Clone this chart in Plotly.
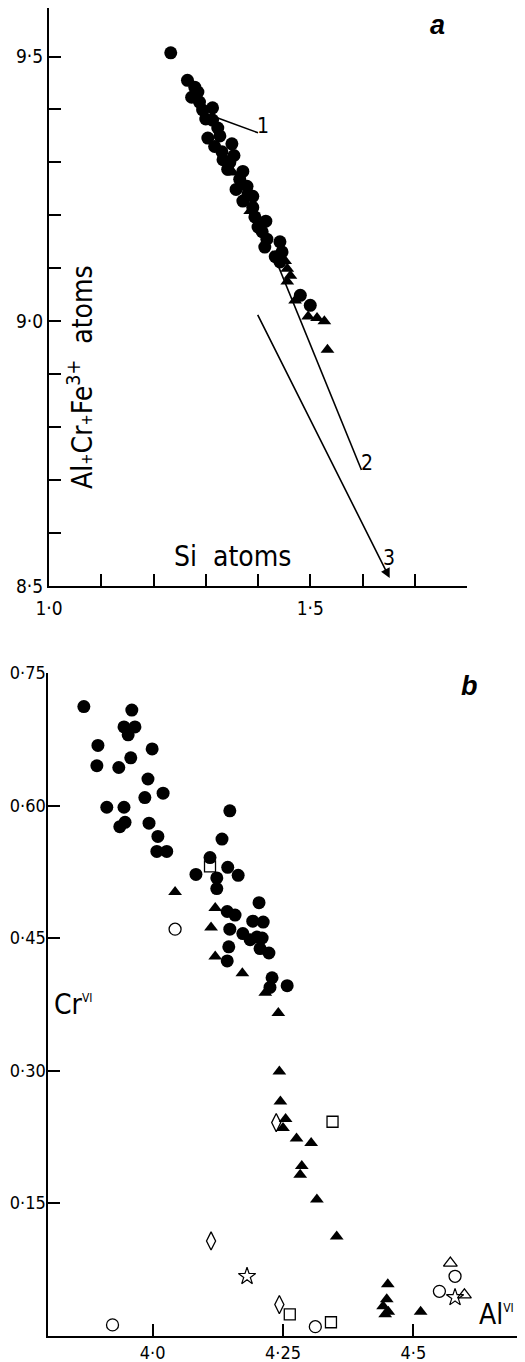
import plotly.graph_objects as go

WF, HF = 517, 1354   # figure size (page body adds an 8px margin)
FONT = "Liberation Sans Narrow, DejaVu Sans Condensed, Liberation Sans, Arial, sans-serif"
BOLDF = "Liberation Sans, Arial, sans-serif"

# ---------------- Panel a data ----------------
a_circle_x = [1.233, 1.265, 1.279, 1.273, 1.288, 1.294, 1.313, 1.300, 1.313, 1.304,
              1.327, 1.317, 1.331, 1.333, 1.354, 1.346, 1.371, 1.358, 1.379, 1.371,
              1.390, 1.390, 1.394, 1.415, 1.408, 1.417, 1.442, 1.413, 1.446, 1.442,
              1.481, 1.500, 1.365, 1.400, 1.433, 1.350, 1.285, 1.323, 1.342, 1.381]
a_circle_y = [9.507, 9.455, 9.442, 9.423, 9.414, 9.399, 9.403, 9.382, 9.380, 9.346,
              9.350, 9.330, 9.320, 9.305, 9.313, 9.300, 9.283, 9.249, 9.255, 9.227,
              9.236, 9.215, 9.197, 9.189, 9.169, 9.155, 9.150, 9.140, 9.131, 9.112,
              9.049, 9.030, 9.268, 9.178, 9.122, 9.335, 9.433, 9.365, 9.287, 9.240]
a_tri_x = [1.352, 1.456, 1.462, 1.456, 1.471, 1.496, 1.513, 1.527, 1.533, 1.385, 1.452]
a_tri_y = [9.281, 9.099, 9.086, 9.075, 9.039, 9.009, 9.006, 9.000, 8.946, 9.208, 9.114]

line1_x = [1.323, 1.400]
line1_y = [9.384, 9.356]
line2_x = [1.427, 1.598]
line2_y = [9.133, 8.719]
line3_x = [1.398, 1.652]
line3_y = [9.015, 8.515]

a_xtickvals = [1.0, 1.1, 1.2, 1.3, 1.4, 1.5, 1.6, 1.7, 1.8]
a_xticktext = ["1·0", "", "", "", "", "1·5", "", "", ""]
a_ytickvals = [8.5, 8.6, 8.7, 8.8, 8.9, 9.0, 9.1, 9.2, 9.3, 9.4, 9.5, 9.59]
a_yticktext = ["8·5", "", "", "", "", "9·0", "", "", "", "", "9·5", ""]

# ---------------- Panel b data ----------------
b_fcircle_x = [3.868, 3.960, 3.945, 3.966, 3.953, 3.895, 3.999, 3.893, 3.935, 3.958,
               3.991, 4.020, 3.985, 3.912, 3.945, 3.947, 3.937, 3.993, 4.010, 4.008,
               4.027, 4.148, 4.133, 4.110, 4.083, 4.144, 4.164, 4.123, 4.123, 4.204,
               4.143, 4.158, 4.192, 4.212, 4.148, 4.173, 4.187, 4.200, 4.210, 4.206,
               4.223, 4.146, 4.143, 4.229, 4.258, 4.225]
b_fcircle_y = [0.712, 0.708, 0.689, 0.689, 0.680, 0.668, 0.664, 0.645, 0.643, 0.654,
               0.630, 0.614, 0.609, 0.598, 0.598, 0.581, 0.576, 0.580, 0.565, 0.548,
               0.548, 0.594, 0.562, 0.541, 0.522, 0.530, 0.521, 0.518, 0.506, 0.490,
               0.480, 0.476, 0.469, 0.468, 0.460, 0.455, 0.448, 0.451, 0.450, 0.438,
               0.433, 0.440, 0.424, 0.405, 0.396, 0.394]
b_ftri_x = [4.043, 4.120, 4.112, 4.120, 4.172, 4.216, 4.241, 4.243, 4.245, 4.255,
            4.250, 4.276, 4.304, 4.286, 4.283, 4.315, 4.353, 4.451, 4.449, 4.442,
            4.452, 4.446, 4.514]
b_ftri_y = [0.502, 0.484, 0.462, 0.429, 0.410, 0.388, 0.365, 0.299, 0.265, 0.245,
            0.235, 0.223, 0.218, 0.192, 0.182, 0.154, 0.112, 0.058, 0.041, 0.033,
            0.027, 0.024, 0.027]
b_ocircle_x = [4.043, 3.923, 4.312, 4.550, 4.580]
b_ocircle_y = [0.460, 0.012, 0.010, 0.050, 0.067]
b_osquare_x = [4.110, 4.345, 4.263, 4.342]
b_osquare_y = [0.531, 0.242, 0.024, 0.015]
b_odiamond_x = [4.237, 4.112, 4.243]
b_odiamond_y = [0.241, 0.107, 0.035]
b_ostar_x = [4.181, 4.580]
b_ostar_y = [0.067, 0.043]
b_otri_x = [4.571, 4.598]
b_otri_y = [0.082, 0.046]

b_xtickvals = [4.0, 4.25, 4.5]
b_xticktext = ["4·0", "4·25", "4·5"]
b_ytickvals = [0.15, 0.30, 0.45, 0.60, 0.75]
b_yticktext = ["0·15", "0·30", "0·45", "0·60", "0·75"]


def fx(px):
    return (px - 8) / WF


def fy(py):
    return 1 - (py - 8) / HF


fig = go.Figure()
blk = "black"


def sc(x, y, sym, size, xa, ya, lw=1.3):
    fig.add_trace(go.Scatter(x=x, y=y, mode="markers", xaxis=xa, yaxis=ya,
                             cliponaxis=False, showlegend=False,
                             marker=dict(symbol=sym, size=size, color=blk,
                                         line=dict(color=blk, width=lw))))


# panel a
for lx, ly in [(line1_x, line1_y), (line2_x, line2_y)]:
    fig.add_trace(go.Scatter(x=lx, y=ly, mode="lines", xaxis="x", yaxis="y",
                             line=dict(color=blk, width=1.6), showlegend=False))
sc(a_circle_x, a_circle_y, "circle", 13, "x", "y", 0)
sc(a_tri_x, a_tri_y, "triangle-up", 12, "x", "y", 0)

# panel b
sc(b_fcircle_x, b_fcircle_y, "circle", 13, "x2", "y2", 0)
sc(b_ftri_x, b_ftri_y, "triangle-up", 12, "x2", "y2", 0)
sc(b_ocircle_x, b_ocircle_y, "circle-open", 12, "x2", "y2", 1.3)
sc(b_osquare_x, b_osquare_y, "square-open", 11, "x2", "y2", 1.3)
sc(b_odiamond_x, b_odiamond_y, "diamond-tall-open", 13, "x2", "y2", 1.3)
sc(b_ostar_x, b_ostar_y, "star-open", 13, "x2", "y2", 1.2)
sc(b_otri_x, b_otri_y, "triangle-up-open", 12, "x2", "y2", 1.3)

tickfont = dict(family=FONT, size=19, color=blk)
axcommon = dict(showgrid=False, zeroline=False, showline=True, linecolor=blk,
                linewidth=2, ticks="inside", ticklen=12, tickwidth=2,
                tickcolor=blk, tickmode="array", automargin=False)

fig.update_layout(
    width=WF, height=HF,
    margin=dict(l=0, r=0, t=0, b=0, pad=0, autoexpand=False),
    paper_bgcolor="white", plot_bgcolor="white",
    xaxis=dict(domain=[fx(49), fx(467)], range=[1.0, 1.8], anchor="y",
               tickvals=a_xtickvals, ticktext=a_xticktext, tickfont=tickfont,
               ticklabelstandoff=4, **axcommon),
    yaxis=dict(domain=[fy(586), 1.0], range=[8.5, 9.5916], anchor="x",
               tickvals=a_ytickvals, ticktext=a_yticktext, tickfont=tickfont,
               ticklabelstandoff=0, **axcommon),
    xaxis2=dict(domain=[fx(48.4), fx(517.6)], range=[3.8, 4.7], anchor="y2",
                tickvals=b_xtickvals, ticktext=b_xticktext,
                tickfont=dict(family=FONT, size=18, color=blk),
                ticklabelstandoff=0, **axcommon),
    yaxis2=dict(domain=[fy(1335.5), fy(673)], range=[0, 0.75], anchor="x2",
                tickvals=b_ytickvals, ticktext=b_yticktext,
                tickfont=dict(family=FONT, size=18, color=blk),
                ticklabelstandoff=-3, **axcommon),
)

# arrow for line 3
fig.add_annotation(x=line3_x[1], y=line3_y[1], ax=line3_x[0], ay=line3_y[0],
                   xref="x", yref="y", axref="x", ayref="y", text="",
                   showarrow=True, arrowhead=2, arrowsize=1.2, arrowwidth=1.6,
                   arrowcolor=blk)


def txt(text, px, py, size, family=FONT, angle=0, xanchor="center"):
    fig.add_annotation(x=fx(px), y=fy(py), xref="paper", yref="paper", text=text,
                       showarrow=False, textangle=angle, xanchor=xanchor,
                       yanchor="middle",
                       font=dict(family=family, size=size, color=blk))


SM = "<span style='font-size:15px'>+</span>"
SUP = "<sup><span style='font-size:12px'>VI</span></sup>"
txt("1", 263, 126, 21)
txt("2", 367, 463, 21)
txt("3", 389, 558, 21)
txt("Si\u00a0 atoms", 232, 556, 28)
txt("Al" + SM + "Cr" + SM + "Fe<sup>3+</sup>\u00a0 atoms", 80, 377, 28, angle=-90)
txt("<b><i>a</i></b>", 437, 25, 27, family=BOLDF)
txt("<b><i>b</i></b>", 469, 686, 27, family=BOLDF)
txt("Cr" + SUP, 73, 1004, 28)
txt("Al" + SUP, 496, 1314, 28)

fig.write_html("out.html")
